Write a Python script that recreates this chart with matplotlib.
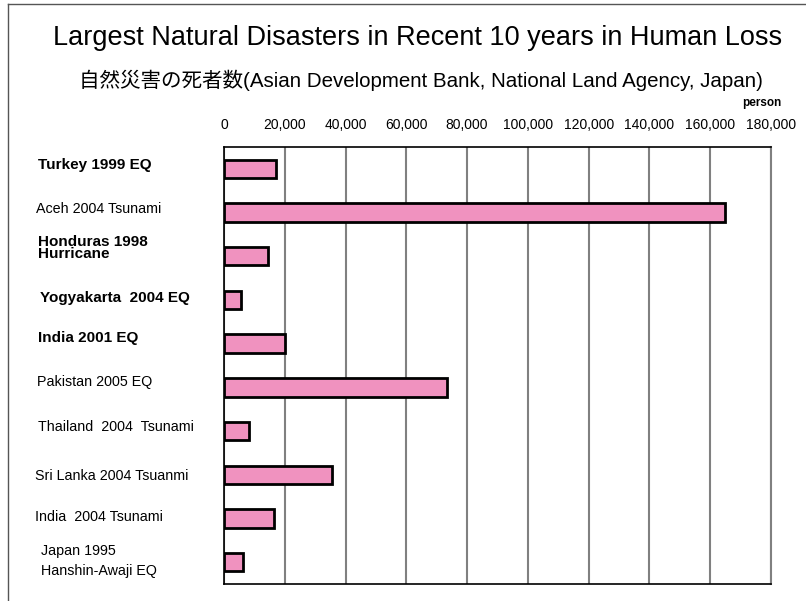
import numpy as np
import matplotlib.pyplot as plt
from matplotlib.lines import Line2D

# Deaths per disaster
labels = ['Turkey 1999 EQ', 'Aceh 2004 Tsunami', 'Honduras 1998\nHurricane',
          'Yogyakarta  2004 EQ', 'India 2001 EQ', 'Pakistan 2005 EQ',
          'Thailand  2004  Tsunami', 'Sri Lanka 2004 Tsuanmi',
          'India  2004 Tsunami', 'Japan 1995\nHanshin-Awaji EQ']
deaths = [17100, 164700, 14500, 5700, 20100, 73300, 8300, 35400, 16400, 6400]
bold = [True, False, True, True, True, False, False, False, False, False]
xticks = np.arange(0, 180001, 20000)
xticklabels = ['0', '20,000', '40,000', '60,000', '80,000', '100,000',
               '120,000', '140,000', '160,000', '180,000']

plt.rcParams['font.family'] = ['Liberation Sans', 'Noto Sans CJK JP', 'DejaVu Sans']

fig = plt.figure(figsize=(8.06, 6.01), dpi=100)
ax = fig.add_axes([0.2779, 0.0283, 0.9566 - 0.2779, 0.7554 - 0.0283])

y = np.arange(len(deaths))
ax.barh(y, deaths, height=0.42, color='#f092bf', edgecolor='black', linewidth=2, zorder=3)

ax.set_xlim(0, 180000)
ax.set_ylim(len(deaths) - 0.5, -0.5)
ax.set_yticks([])
ax.xaxis.tick_top()
ax.set_xticks(xticks)
ax.set_xticklabels(xticklabels, fontsize=10)
ax.tick_params(axis='x', length=0, pad=11)
ax.grid(axis='x', color='#808080', linewidth=1.5, zorder=0)
for s in ['left', 'top', 'bottom']:
    ax.spines[s].set_color('black')
    ax.spines[s].set_linewidth(1.2)
ax.spines['right'].set_color('#808080')
ax.spines['right'].set_linewidth(1.5)

# category labels on the left
label_y = [165, 209, 248, 298, 338, 382, 427, 476, 517, 561]
label_x = [38, 36, 38, 40, 38, 37, 38, 35, 35, 41]
for lab, yy, xx, b in zip(labels, label_y, label_x, bold):
    fig.text(xx / 806, 1 - yy / 601, lab, ha='left', va='center',
             fontsize=11 if b else 10.3, fontweight='bold' if b else 'normal',
             linespacing=0.9 if lab.startswith('Honduras') else 1.55)

fig.text(418 / 806, 1 - 38 / 601, 'Largest Natural Disasters in Recent 10 years in Human Loss',
         ha='center', va='center', fontsize=19.5)
fig.text(421 / 806, 1 - 80 / 601,
         '自然災害の死者数(Asian Development Bank, National Land Agency, Japan)',
         ha='center', va='center', fontsize=14.8)
fig.text(762 / 806, 1 - 103 / 601, 'person', ha='center', va='center',
         fontsize=8.5, fontweight='bold')

# frame of the original picture
fig.add_artist(Line2D([8 / 806, 8 / 806], [0, 1 - 4 / 601], color='#555555', linewidth=1))
fig.add_artist(Line2D([8 / 806, 1], [1 - 4 / 601, 1 - 4 / 601], color='#555555', linewidth=1))

fig.savefig('out.png', dpi=100)
